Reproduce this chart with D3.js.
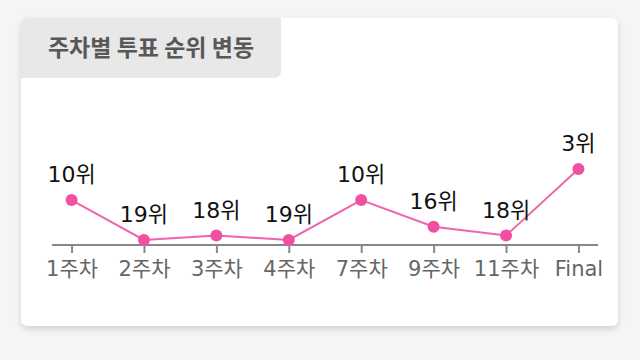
<!DOCTYPE html>
<html>
<head>
<meta charset="utf-8">
<script src="https://cdn.jsdelivr.net/npm/d3@7"></script>
<style>
  html, body { margin: 0; padding: 0; background: #f5f5f5; }
  #chart { width: 640px; height: 360px; }
</style>
</head>
<body>
<div id="chart"></div>
<script>
const weeks = ['1주차', '2주차', '3주차', '4주차', '7주차', '9주차', '11주차', 'Final'];
const ranks = [10, 19, 18, 19, 10, 16, 18, 3];
const titleText = '주차별 투표 순위 변동';

const font = '"DejaVu Sans", "Noto Sans CJK KR", sans-serif';
const W = 640, H = 360;

const svg = d3.select('#chart')
    .append('svg')
    .attr('width', W)
    .attr('height', H);

const defs = svg.append('defs');
const shadow = defs.append('filter')
    .attr('id', 'shadow')
    .attr('x', '-10%').attr('y', '-10%')
    .attr('width', '120%').attr('height', '130%');
shadow.append('feDropShadow')
    .attr('dx', 0).attr('dy', 3)
    .attr('stdDeviation', 3)
    .attr('flood-color', '#000')
    .attr('flood-opacity', 0.15);

const card = {x: 21, y: 18, w: 597, h: 308, r: 7};

svg.append('rect')
    .attr('x', card.x).attr('y', card.y)
    .attr('width', card.w).attr('height', card.h)
    .attr('rx', card.r)
    .attr('fill', '#fff')
    .attr('filter', 'url(#shadow)');

// title tab
const tab = {w: 260, h: 60, r: 7};
const tabPath = `M${card.x + card.r},${card.y}
    H${card.x + tab.w}
    V${card.y + tab.h - tab.r}
    Q${card.x + tab.w},${card.y + tab.h} ${card.x + tab.w - tab.r},${card.y + tab.h}
    H${card.x}
    V${card.y + card.r}
    Q${card.x},${card.y} ${card.x + card.r},${card.y} Z`;
svg.append('path')
    .attr('d', tabPath)
    .attr('fill', '#e8e8e8');

svg.append('text')
    .attr('x', card.x + tab.w / 2)
    .attr('y', card.y + tab.h / 2)
    .attr('dy', '0.36em')
    .attr('text-anchor', 'middle')
    .attr('font-family', '"Noto Sans CJK KR", sans-serif')
    .attr('font-size', '23px')
    .attr('font-weight', '700')
    .attr('fill', '#585858')
    .text(titleText);

// scales
const axisY = 245;
const x = d3.scalePoint()
    .domain(weeks)
    .range([52, 598])
    .padding(0.27);

const y = d3.scaleLinear()
    .domain([3, 19])
    .range([169, 240]);

const g = svg.append('g');

const xAxis = d3.axisBottom(x).tickSize(8).tickSizeOuter(0).tickPadding(8);
const ax = g.append('g')
    .attr('transform', `translate(0,${axisY})`)
    .call(xAxis);
ax.select('.domain')
    .attr('stroke', '#888')
    .attr('stroke-width', 2)
    .attr('d', `M52,0H598`);
ax.selectAll('.tick line')
    .attr('stroke', '#888')
    .attr('stroke-width', 2);
ax.selectAll('.tick text')
    .attr('fill', '#666')
    .attr('font-family', font)
    .attr('font-size', '21px');

const line = d3.line()
    .x((d, i) => x(weeks[i]))
    .y(d => y(d));

g.append('path')
    .datum(ranks)
    .attr('d', line)
    .attr('fill', 'none')
    .attr('stroke', '#f064ac')
    .attr('stroke-width', 2);

g.selectAll('.dot')
    .data(ranks)
    .enter()
    .append('circle')
    .attr('class', 'dot')
    .attr('cx', (d, i) => x(weeks[i]))
    .attr('cy', d => y(d))
    .attr('r', 6)
    .attr('fill', '#f0509f');

g.selectAll('.rank-label')
    .data(ranks)
    .enter()
    .append('text')
    .attr('class', 'rank-label')
    .attr('x', (d, i) => x(weeks[i]))
    .attr('y', d => y(d) - 18)
    .attr('text-anchor', 'middle')
    .attr('font-family', font)
    .attr('font-size', '22px')
    .attr('fill', '#111')
    .text(d => `${d}위`);
</script>
</body>
</html>
